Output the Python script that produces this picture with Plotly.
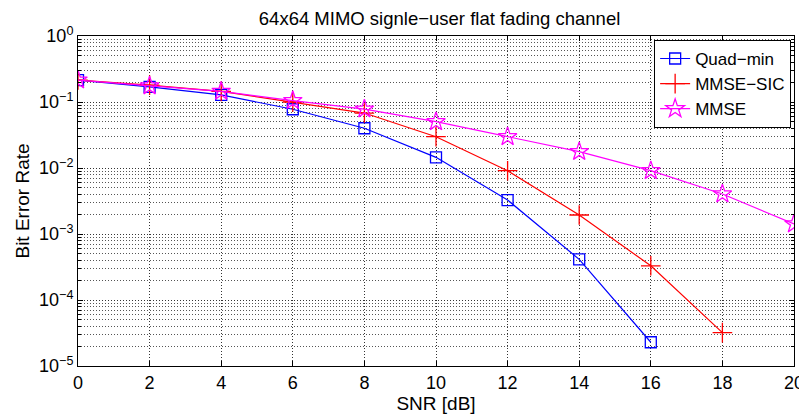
import plotly.graph_objects as go

snr = [0, 2, 4, 6, 8, 10, 12, 14, 16, 18, 20]

quad_min = [0.215, 0.17, 0.128, 0.0776, 0.040, 0.0145, 0.00327, 4.13e-4, 2.29e-5]
mmse_sic = [0.215, 0.18, 0.145, 0.10, 0.068, 0.0298, 0.0091, 0.00194, 3.3e-4, 3.2e-5]
mmse = [0.215, 0.175, 0.145, 0.105, 0.078, 0.0503, 0.0298, 0.0177, 0.0091, 0.00404, 0.00142]

ytick_vals = [1e-5, 1e-4, 1e-3, 1e-2, 1e-1, 1]
ytick_text = ["10<sup>−5</sup>", "10<sup>−4</sup>", "10<sup>−3</sup>",
              "10<sup>−2</sup>", "10<sup>−1</sup>", "10<sup>0</sup>"]
xtick_vals = [0, 2, 4, 6, 8, 10, 12, 14, 16, 18, 20]

FONT = "Liberation Sans, Arial, sans-serif"
DOT = "1px,2px"

fig = go.Figure()
fig.add_trace(go.Scatter(
    x=snr[:len(quad_min)], y=quad_min, name="Quad−min", mode="lines+markers",
    line=dict(color="#0000ff", width=1.2),
    marker=dict(symbol="square-open", size=11, color="#0000ff", line=dict(width=1.3))))
fig.add_trace(go.Scatter(
    x=snr[:len(mmse_sic)], y=mmse_sic, name="MMSE−SIC", mode="lines+markers",
    line=dict(color="#ff0000", width=1.2),
    marker=dict(symbol="cross-thin-open", size=14, color="#ff0000", line=dict(width=1.3, color="#ff0000"))))
fig.add_trace(go.Scatter(
    x=snr[:len(mmse)], y=mmse, name="MMSE", mode="lines+markers",
    line=dict(color="#ff00ff", width=1.2),
    marker=dict(symbol="star-open", size=14, color="#ff00ff", line=dict(width=1.3))))

fig.update_layout(
    width=807, height=410,
    margin=dict(l=70, r=21, t=28, b=52, autoexpand=False),
    paper_bgcolor="white", plot_bgcolor="white",
    font=dict(family=FONT, size=19, color="black"),
    title=dict(text="64x64 MIMO signle−user flat fading channel", xref="paper", x=0.505,
               xanchor="center", y=0.975, yanchor="middle", font=dict(size=18.5)),
    legend=dict(x=0.996, y=0.988, xanchor="right", yanchor="top",
                bgcolor="white", bordercolor="black", borderwidth=1,
                font=dict(size=17), tracegroupgap=0, itemwidth=30),
    showlegend=True,
)

fig.update_xaxes(
    range=[0, 20], tickvals=xtick_vals, ticks="inside", ticklen=5, tickcolor="black",
    showline=True, linecolor="black", linewidth=1, mirror="allticks",
    showgrid=True, gridcolor="#333333", griddash=DOT, gridwidth=1,
    zeroline=False, tickfont=dict(size=18), automargin=False,
    title=dict(text="SNR [dB]", font=dict(size=19), standoff=2),
)
fig.update_yaxes(
    type="log", range=[-5, 0], tickvals=ytick_vals, ticktext=ytick_text,
    ticks="inside", ticklen=5, tickcolor="black",
    showline=True, linecolor="black", linewidth=1, mirror="allticks",
    showgrid=True, gridcolor="#333333", griddash=DOT, gridwidth=1,
    zeroline=False, tickfont=dict(size=18), automargin=False,
    minor=dict(dtick="D1", ticks="inside", ticklen=3, tickcolor="black",
               showgrid=True, gridcolor="#555555", griddash=DOT, gridwidth=1),
    title=dict(text="Bit Error Rate", font=dict(size=19), standoff=4),
)

fig.write_html("out.html")
